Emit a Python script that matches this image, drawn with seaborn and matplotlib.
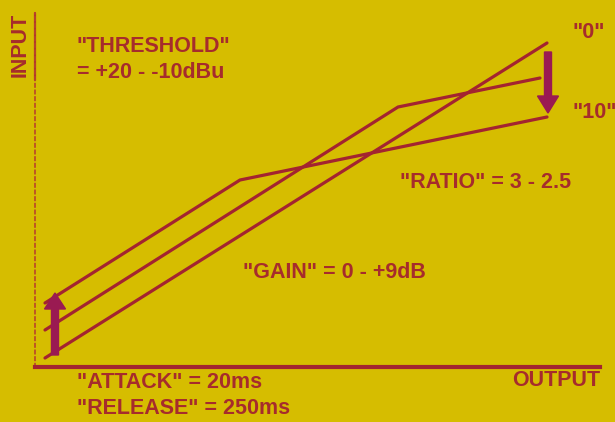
import matplotlib
matplotlib.use("Agg")
import matplotlib.pyplot as plt
import seaborn as sns
import pandas as pd

# ---- data (diagram units: output level on x, input level on y) ----
line_names = ['"0"', 'mid', '"10"']
straight_x = [10, 512]
straight_y = [9, 324]
mid_x = [10, 363, 505]
mid_y = [37, 260, 289]
top_x = [10, 205, 512]
top_y = [64, 187, 250]

# arrows: (x, y_start, y_end)
gain_arrow = [20, 12, 74]
threshold_arrow = [513, 315, 254]

x_label = "OUTPUT"
y_label = "INPUT"
threshold_text = ['"THRESHOLD"', '= +20 - -10dBu']
ratio_text = '"RATIO" = 3 - 2.5'
gain_text = '"GAIN" = 0 - +9dB'
time_text = ['"ATTACK" = 20ms', '"RELEASE" = 250ms']
end_labels = ['"0"', '"10"']

BG = "#d6bd00"
LINE = "#a32430"
TEXT = "#a62c2c"
ARROW = "#9a1a52"

sns.set_theme(style="white", rc={"axes.facecolor": BG, "figure.facecolor": BG})
plt.rcParams["font.family"] = ["Liberation Sans", "DejaVu Sans"]

rows = []
for name, xs, ys in [("straight", straight_x, straight_y),
                     ("mid", mid_x, mid_y),
                     ("top", top_x, top_y)]:
    for x, y in zip(xs, ys):
        rows.append({"line": name, "output": x, "input": y})
df = pd.DataFrame(rows)

fig = plt.figure(figsize=(6.15, 4.22), dpi=100)
ax = fig.add_axes([35 / 615, 55 / 422, 565 / 615, 354 / 422])
ax.set_facecolor(BG)

sns.lineplot(data=df, x="output", y="input", units="line", estimator=None,
             sort=False, color=LINE, linewidth=2.3, ax=ax, legend=False)

ax.set_xlim(0, 565)
ax.set_ylim(0, 354)
ax.set_xticks([])
ax.set_yticks([])
ax.set_xlabel("")
ax.set_ylabel("")
for s in ["top", "right"]:
    ax.spines[s].set_visible(False)
ax.spines["bottom"].set_color(LINE)
ax.spines["bottom"].set_linewidth(3)
ax.spines["left"].set_color("#b8452a")
ax.spines["left"].set_linewidth(1.2)
ax.spines["left"].set_linestyle((0, (2, 2)))
ax.plot([0, 0], [287, 354], color="#b03a2a", linewidth=1.6, clip_on=False)

# arrows
ax.arrow(gain_arrow[0], gain_arrow[1], 0, gain_arrow[2] - gain_arrow[1],
         width=7, head_width=21, head_length=16, length_includes_head=True,
         color=ARROW, zorder=5)
ax.arrow(threshold_arrow[0], threshold_arrow[1], 0,
         threshold_arrow[2] - threshold_arrow[1],
         width=7, head_width=21, head_length=17, length_includes_head=True,
         color=ARROW, zorder=5)

kw = dict(color=TEXT, fontsize=15.5, fontweight="bold", clip_on=False, va="center")
ax.text(42, 320, threshold_text[0], ha="left", **kw)
ax.text(42, 294, threshold_text[1], ha="left", **kw)
ax.text(365, 184, ratio_text, ha="left", **kw)
ax.text(208, 95, gain_text, ha="left", **kw)
ax.text(42, -16, time_text[0], ha="left", **kw)
ax.text(42, -42, time_text[1], ha="left", **kw)
ax.text(537, 334, end_labels[0], ha="left", **kw)
ax.text(537, 254, end_labels[1], ha="left", **kw)
ax.text(565, -14, x_label, ha="right", **kw)
ax.text(-15, 322, y_label, ha="center", rotation=90, **kw)

fig.savefig("out.png", dpi=100, facecolor=BG)
